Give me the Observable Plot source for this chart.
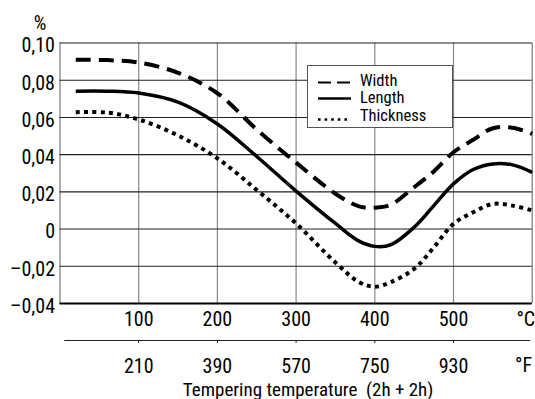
<!DOCTYPE html>
<html><head><meta charset="utf-8">
<script src="https://cdn.jsdelivr.net/npm/d3@7"></script>
<script src="https://cdn.jsdelivr.net/npm/@observablehq/plot@0.6"></script>
<style>
body{margin:0;background:#fff;}
#wrap{position:relative;width:535px;height:399px;font-family:"Roboto Condensed",sans-serif;font-weight:400;}
#wrap text{font-weight:400;}
#legend{position:absolute;left:307px;top:65px;width:146px;height:63px;background:#fff;border:1px solid #555;box-sizing:border-box;}
#legend svg{display:block;}
</style></head><body>
<div id="wrap"></div>
<script>
// ---- data ----
const tempC = [20, 60, 100, 150, 200, 250, 300, 350, 380, 400, 420, 450, 475, 500, 525, 550, 575, 600];
const widthVals = [0.091, 0.0908, 0.0895, 0.084, 0.073, 0.0535, 0.0357, 0.019, 0.0122, 0.0115, 0.013, 0.0225, 0.031, 0.0413, 0.048, 0.0542, 0.0545, 0.0512];
const lengthVals = [0.0741, 0.0741, 0.0731, 0.0682, 0.0565, 0.039, 0.0204, 0.003, -0.0065, -0.0093, -0.0085, 0.001, 0.0126, 0.0243, 0.032, 0.035, 0.0345, 0.0305];
const thicknessVals = [0.0628, 0.0626, 0.0589, 0.0503, 0.038, 0.021, 0.003, -0.018, -0.0285, -0.031, -0.0286, -0.0214, -0.0098, 0.0028, 0.009, 0.0135, 0.0126, 0.01];
const seriesNames = ["Width", "Length", "Thickness"];
const yTicks = [-0.04, -0.02, 0, 0.02, 0.04, 0.06, 0.08, 0.10];
const yTickLabels = ["–0,04", "–0,02", "0", "0,02", "0,04", "0,06", "0,08", "0,10"];
const cTicks = [100, 200, 300, 400, 500];
const fTickLabels = ["210", "390", "570", "750", "930"];
const xDomain = [0, 600];
const fAxisExtent = [6, 598];
const yUnit = "%";
const cUnit = "°C";
const fUnit = "°F";
const xTitle = "Tempering temperature  (2h + 2h)";

// ---- styles ----
const styles = {
  Width: {strokeWidth: 4, strokeDasharray: "15,8", legendDash: "13,6", legendWidth: 2},
  Length: {strokeWidth: 3.5, strokeDasharray: null, legendDash: null, legendWidth: 2.6},
  Thickness: {strokeWidth: 4, strokeDasharray: "4,4.3", legendDash: "2.6,4", legendWidth: 2.6}
};
const valuesByName = {Width: widthVals, Length: lengthVals, Thickness: thicknessVals};
const rows = name => tempC.map((t, i) => ({t, v: valuesByName[name][i]}));

const font = "Roboto Condensed, sans-serif";

const plot = Plot.plot({
  width: 535,
  height: 399,
  marginLeft: 59.5,
  marginRight: 3.3,
  marginTop: 42.5,
  marginBottom: 96,
  style: {fontFamily: font, fontWeight: 400, background: "#fff", overflow: "visible"},
  x: {domain: xDomain},
  y: {domain: [yTicks[0], yTicks[yTicks.length - 1]]},
  marks: [
    Plot.ruleX(cTicks, {stroke: "#888", strokeWidth: 1.2}),
    Plot.ruleX(xDomain, {stroke: "#777", strokeWidth: 1.2}),
    Plot.ruleY(yTicks, {stroke: "#222", strokeWidth: 1.1}),
    Plot.ruleY([yTicks[0]], {stroke: "#000", strokeWidth: 2}),
    ...seriesNames.map(name => Plot.line(rows(name), {
      x: "t", y: "v", curve: "catmull-rom", stroke: "#000",
      strokeWidth: styles[name].strokeWidth,
      strokeDasharray: styles[name].strokeDasharray,
      strokeLinecap: "butt"
    })),
    Plot.axisY({ticks: yTicks, tickFormat: d => yTickLabels[yTicks.indexOf(d)], tickSize: 0, tickPadding: 5, fontSize: 20, dy: 3, label: null, fill: "#000"}),
    Plot.axisX({ticks: cTicks, tickSize: 0, tickPadding: 8, fontSize: 20, label: null, fill: "#000"}),
    Plot.ruleY([yTicks[0]], {x1: fAxisExtent[0], x2: fAxisExtent[1], dy: 37, stroke: "#222", strokeWidth: 1.2, clip: false}),
    Plot.axisX({ticks: cTicks, tickFormat: d => fTickLabels[cTicks.indexOf(d)], tickSize: 3, tickPadding: 15.5, dy: 37, fontSize: 20, label: null, fill: "#000", stroke: "#222"}),
    Plot.text([cUnit], {frameAnchor: "bottom-right", textAnchor: "end", lineAnchor: "top", dx: 3, dy: 8, fontSize: 20, fill: "#000"}),
    Plot.text([fUnit], {frameAnchor: "bottom-right", textAnchor: "end", lineAnchor: "top", dx: 0, dy: 54, fontSize: 20, fill: "#000"}),
    Plot.text([xTitle], {frameAnchor: "bottom", lineAnchor: "top", dx: 12, dy: 78.5, fontSize: 19, fill: "#000"}),
    Plot.text([yUnit], {frameAnchor: "top-left", textAnchor: "middle", lineAnchor: "bottom", dx: -20, dy: -13, fontSize: 20, fill: "#000"})
  ]
});

const wrap = document.getElementById("wrap");
wrap.appendChild(plot);

// legend (HTML overlay)
const legend = document.createElement("div");
legend.id = "legend";
const ns = "http://www.w3.org/2000/svg";
const svg = document.createElementNS(ns, "svg");
svg.setAttribute("width", 146);
svg.setAttribute("height", 63);
const legendLineY = [16.5, 32.5, 53.5];
const legendTextY = [20, 37, 55];
seriesNames.forEach((name, i) => {
  const ln = document.createElementNS(ns, "line");
  ln.setAttribute("x1", 10); ln.setAttribute("x2", 43);
  ln.setAttribute("y1", legendLineY[i]); ln.setAttribute("y2", legendLineY[i]);
  ln.setAttribute("stroke", "#000");
  ln.setAttribute("stroke-width", styles[name].legendWidth);
  if (styles[name].legendDash) ln.setAttribute("stroke-dasharray", styles[name].legendDash);
  svg.appendChild(ln);
  const tx = document.createElementNS(ns, "text");
  tx.setAttribute("x", 52); tx.setAttribute("y", legendTextY[i]);
  tx.setAttribute("font-size", 16.5);
  tx.setAttribute("font-family", font);
  tx.textContent = name;
  svg.appendChild(tx);
});
legend.appendChild(svg);
wrap.appendChild(legend);
</script>
</body></html>
